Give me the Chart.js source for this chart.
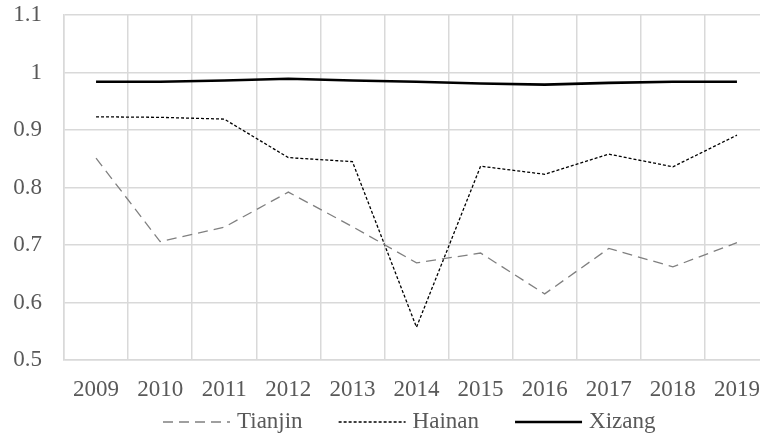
<!DOCTYPE html>
<html>
<head>
<meta charset="utf-8">
<script src="https://cdn.jsdelivr.net/npm/chart.js@4/dist/chart.umd.min.js"></script>
<style>
  html, body { margin: 0; padding: 0; overflow: hidden; background: #fff; }
  #wrap { width: 760px; height: 435px; overflow: hidden; }
</style>
</head>
<body>
<div id="wrap"><canvas id="lines" width="769" height="435"></canvas></div>
<script>
// data
var years = ["2009", "2010", "2011", "2012", "2013", "2014", "2015", "2016", "2017", "2018", "2019"];
var tianjin = [0.851, 0.706, 0.731, 0.792, 0.732, 0.669, 0.686, 0.615, 0.694, 0.662, 0.704];
var hainan = [0.923, 0.922, 0.919, 0.852, 0.845, 0.557, 0.837, 0.823, 0.858, 0.836, 0.891];
var xizang = [0.984, 0.984, 0.986, 0.989, 0.986, 0.984, 0.981, 0.979, 0.982, 0.984, 0.984];

var textColor = '#595959';
var gridColor = '#d9d9d9';
var fontFamily = "'Liberation Serif', 'Times New Roman', serif";

// legend drawn by hand so it can sit where the original one is
var lineLegend = {
  id: 'lineLegend',
  afterDraw: function(chart) {
    var ctx = chart.ctx;
    var x = 163, y = 422;
    ctx.save();
    ctx.font = '23px ' + fontFamily;
    ctx.textBaseline = 'middle';
    chart.data.datasets.forEach(function(ds) {
      ctx.beginPath();
      ctx.setLineDash(ds.borderDash || []);
      ctx.lineWidth = ds.borderWidth;
      ctx.strokeStyle = ds.borderColor;
      ctx.moveTo(x, y);
      ctx.lineTo(x + 67, y);
      ctx.stroke();
      ctx.setLineDash([]);
      ctx.fillStyle = textColor;
      ctx.fillText(ds.label, x + 74, y);
      x += 74 + ctx.measureText(ds.label).width + 36;
    });
    ctx.restore();
  }
};

var ctx = document.getElementById("lines").getContext("2d");
var myLines = new Chart(ctx, {
  type: "line",
  data: {
    labels: years,
    datasets: [
      {
        label: "Tianjin",
        data: tianjin,
        borderColor: '#808080',
        borderWidth: 1.3,
        borderDash: [10, 6]
      },
      {
        label: "Hainan",
        data: hainan,
        borderColor: '#000000',
        borderWidth: 1.3,
        borderDash: [3, 2]
      },
      {
        label: "Xizang",
        data: xizang,
        borderColor: '#000000',
        borderWidth: 2.6
      }
    ]
  },
  options: {
    responsive: false,
    animation: false,
    layout: { padding: { top: 15, left: 0, right: 0, bottom: 0 } },
    elements: {
      point: { radius: 0 },
      line: { tension: 0, fill: false }
    },
    plugins: {
      legend: { display: false },
      tooltip: { enabled: false }
    },
    scales: {
      x: {
        offset: true,
        afterFit: function(scale) {
          scale.height = 75;
          scale.paddingLeft = 0; scale.paddingRight = 0;
        },
        grid: { offset: true, color: gridColor, lineWidth: 1.5, drawTicks: false },
        border: { color: gridColor, width: 1.5 },
        ticks: { color: textColor, padding: 16, font: { family: fontFamily, size: 23 } }
      },
      y: {
        min: 0.5,
        max: 1.1,
        afterFit: function(scale) {
          scale.width = 64;
          scale.paddingTop = 0; scale.paddingBottom = 0;
        },
        grid: { color: gridColor, lineWidth: 1.5, drawTicks: false },
        border: { color: gridColor, width: 1.5 },
        ticks: {
          stepSize: 0.1,
          padding: 22,
          color: textColor,
          font: { family: fontFamily, size: 23 },
          callback: function(v) { return String(Math.round(v * 10) / 10); }
        }
      }
    }
  },
  plugins: [lineLegend]
});
</script>
</body>
</html>
